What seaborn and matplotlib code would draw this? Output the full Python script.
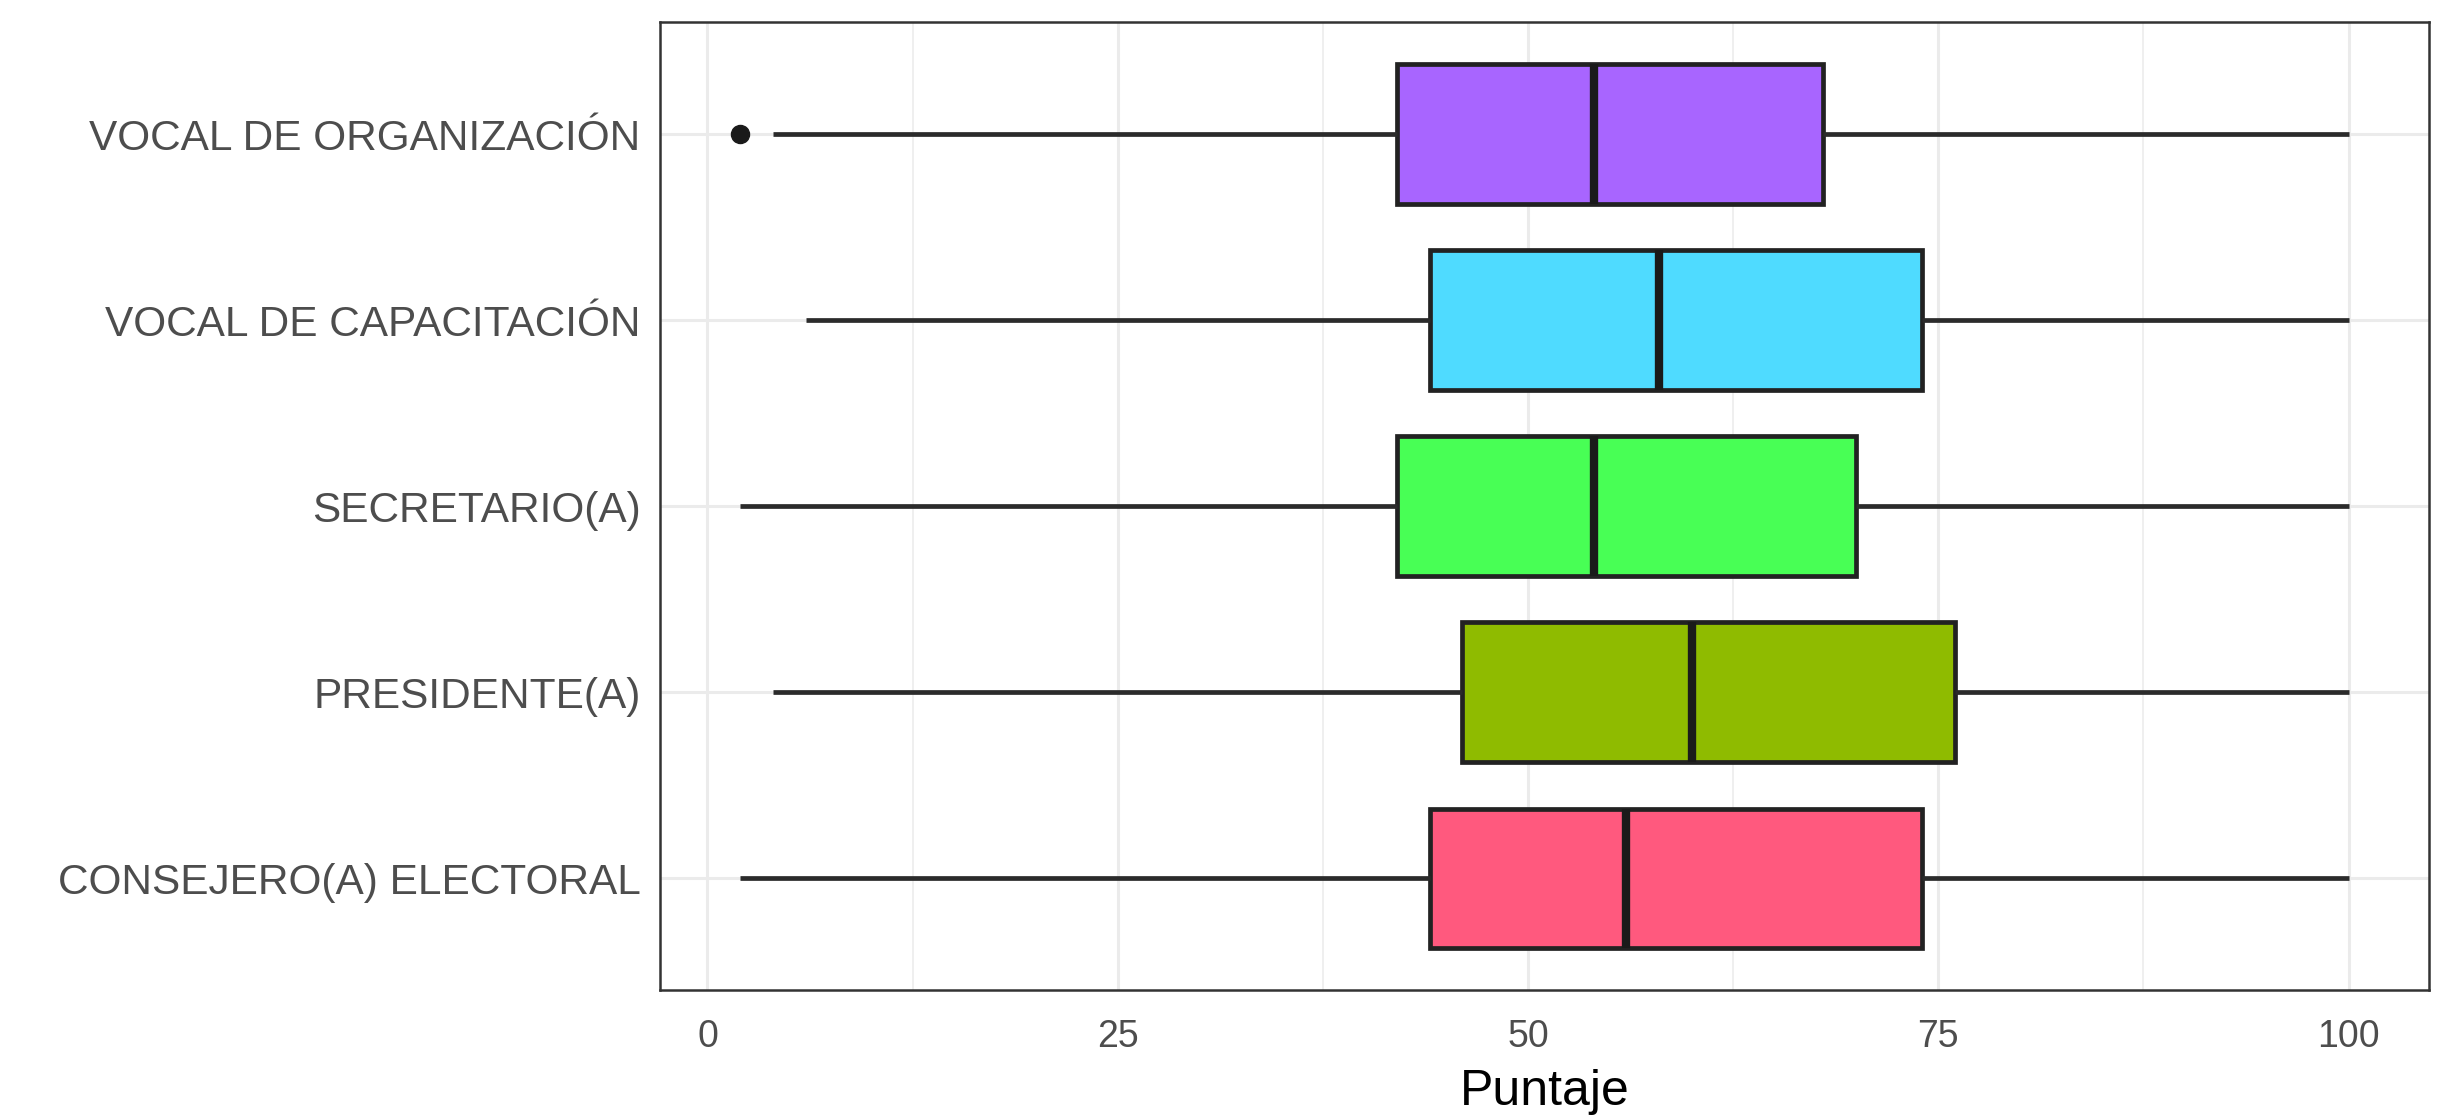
import pandas as pd
import matplotlib.pyplot as plt
import seaborn as sns

# Datos (puntaje por cargo)
cargos = ["VOCAL DE ORGANIZACIÓN", "VOCAL DE CAPACITACIÓN", "SECRETARIO(A)",
          "PRESIDENTE(A)", "CONSEJERO(A) ELECTORAL"]
bigote_inf = [4, 6, 2, 4, 2]
cuartil_1 = [42, 44, 42, 46, 44]
mediana = [54, 58, 54, 60, 56]
cuartil_3 = [68, 74, 70, 76, 74]
bigote_sup = [100, 100, 100, 100, 100]
atipicos = [[2], [], [], [], []]
colores = ["#A865FF", "#4FDBFF", "#48FF55", "#8FBB00", "#FF597E"]

# Tabla larga: nueve puntos por cargo, con cuartiles en las posiciones 2, 4 y 6
filas = []
for i, c in enumerate(cargos):
    primero = atipicos[i][0] if atipicos[i] else bigote_inf[i]
    vals = [primero, bigote_inf[i], cuartil_1[i], mediana[i], mediana[i],
            cuartil_3[i], cuartil_3[i], bigote_sup[i], bigote_sup[i]]
    for v in vals:
        filas.append({"Cargo": c, "Puntaje": v})
data = pd.DataFrame(filas)

sns.set_theme(style="whitegrid")
plt.rcParams['font.family'] = ['Liberation Sans', 'DejaVu Sans']

fig = plt.figure(figsize=(24.55, 11.18), dpi=100)
ax = fig.add_axes([0.2688, 0.1145, 0.7206, 0.8655])

sns.boxplot(data=data, x="Puntaje", y="Cargo", hue="Cargo", order=cargos,
            hue_order=cargos, palette=colores, legend=False, orient="h",
            width=0.75, whis=1.5, showcaps=False, linewidth=3.4,
            linecolor="#222222", saturation=1, ax=ax,
            medianprops=dict(color="#1a1a1a", linewidth=6),
            whiskerprops=dict(color="#2b2b2b", linewidth=3.4),
            flierprops=dict(marker="o", markerfacecolor="#1a1a1a",
                            markeredgecolor="#1a1a1a", markersize=13))

ax.set_xlim(-2.9, 104.9)
ax.set_ylim(4.6, -0.6)
ax.set_xticks([0, 25, 50, 75, 100])
ax.set_xticks([12.5, 37.5, 62.5, 87.5], minor=True)
ax.grid(which="major", color="#EBEBEB", linewidth=2.2)
ax.grid(which="minor", axis="x", color="#EBEBEB", linewidth=1.1)
ax.set_axisbelow(True)
ax.set_facecolor("white")

for s in ax.spines.values():
    s.set_visible(True)
    s.set_color("#333333")
    s.set_linewidth(1.8)

ax.tick_params(axis="both", which="major", length=9, width=1.8,
               color="#333333", labelcolor="#4D4D4D", pad=5)
ax.tick_params(axis="x", which="major", labelsize=27, pad=12)
ax.tick_params(axis="y", which="major", labelsize=30.5)
ax.tick_params(which="minor", length=0)

ax.set_ylabel("")
ax.set_xlabel("Puntaje", fontsize=36, color="black", labelpad=10)

fig.savefig("out.png", dpi=100)
